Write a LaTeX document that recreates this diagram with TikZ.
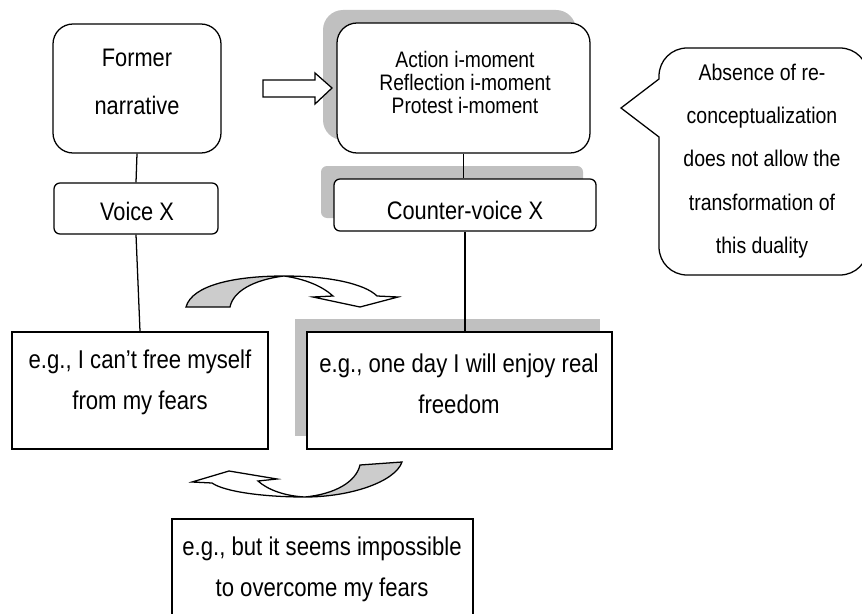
\documentclass[tikz,border=0pt]{standalone}
\usepackage{fontspec}
\setmainfont{Liberation Sans}[FakeStretch=0.86]
\usetikzlibrary{shadows}
\definecolor{shadowgray}{RGB}{192,192,192}
\definecolor{arrowgray}{RGB}{204,204,204}
\begin{document}
\begin{tikzpicture}[x=0.75pt,y=-0.75pt,line width=0.95pt,
  boxfont/.style={font=\fontsize{19}{30.5}\selectfont},
  egfont/.style={font=\fontsize{19.3}{30.5}\selectfont},
  smallfont/.style={font=\fontsize{16.8}{17.6}\selectfont},
  bubblefont/.style={font=\fontsize{17}{32.5}\selectfont},
  bx/.style={draw=black,fill=white,inner sep=0pt},
  rbig/.style={bx,rounded corners=15pt},
  rsmall/.style={bx,rounded corners=4.5pt},
  shadowL/.style={general shadow={shadow xshift=#1, shadow yshift=9.75pt, fill=shadowgray, opacity=1}},
  txt/.style={align=center,inner sep=0pt}
]
\useasboundingbox (0,0) rectangle (862,613);
\clip (0,0) rectangle (862,613);
\fill[white] (0,0) rectangle (862,613);

% boxes
\node[rbig, minimum width=126pt, minimum height=96.75pt] (former) at (137,88.5) {};
\node[rsmall, minimum width=123pt, minimum height=38.25pt] (voice) at (136,208.5) {};
\node[bx, minimum width=192pt, minimum height=87.75pt] (egL) at (140,390.5) {};
\node[bx, shadowL=-9pt, minimum width=228.75pt, minimum height=87.75pt] (egR) at (459.5,390.5) {};
\node[rbig, shadowL=-10.5pt, minimum width=189.75pt, minimum height=97.5pt] (action) at (463.5,88) {};
\node[rsmall, shadowL=-9.75pt, minimum width=196.5pt, minimum height=39pt] (counter) at (465,205) {};
\node[bx, minimum width=225.75pt, minimum height=83.25pt] (egB) at (322.5,574.5) {};

% texts
\node[txt, font=\fontsize{19}{36}\selectfont] (formerT) at (137,82) {Former\\narrative};
\node[txt, boxfont] (voiceT) at (137,211) {Voice X};
\node[txt, smallfont] (actionT) at (465,82.5) {Action i-moment\\Reflection i-moment\\Protest i-moment};
\node[txt, boxfont] (counterT) at (465,210) {Counter-voice X};
\node[txt, egfont] (egLT) at (140,382.5) {e.g., I can’t free myself\\from my fears};
\node[txt, egfont] (egRT) at (459,383.5) {e.g., one day I will enjoy real\\freedom};
\node[txt, egfont] (egBT) at (322,569.5) {e.g., but it seems impossible\\to overcome my fears};

% connectors
\draw (former.south) -- (voice.north);
\draw (voice.south) -- (egL.north);
\draw (action.south) -- (action.south |- counter.north);
\draw (counter.south) -- (counter.south |- egR.north);

% hollow block arrow
\draw[fill=white] (263,80) -- (315,80) -- (315,73) -- (332,88) -- (315,104) -- (315,97) -- (263,97) -- cycle;

% speech bubble
\draw[fill=white] (621,108) -- (659,137) [rounded corners=21pt] -- (659,275) -- (868,275) -- (868,48) -- (659,48) [sharp corners] -- (659,79) -- cycle;
\node[txt, bubblefont] (bubbleT) at (762,161) {Absence of re-\\conceptualization\\does not allow the\\transformation of\\this duality};

% top curved arrow
\draw[fill=arrowgray] (186,307) .. controls (192,285) and (235,276) .. (284,276)
   .. controls (252,280) and (233,292) .. (230,307) -- cycle;
\draw[fill=white] (284,276) .. controls (330,276) and (365,284) .. (377,296)
   -- (398,297) -- (360,307) -- (313,297) -- (333,296)
   .. controls (322,286) and (305,279) .. (284,276) -- cycle;

% bottom curved arrow
\draw[fill=arrowgray] (360,465) -- (402,462) .. controls (395,482) and (350,497) .. (305,497)
   .. controls (335,494) and (356,482) .. (360,465) -- cycle;
\draw[fill=white] (305,497) .. controls (265,497) and (225,492) .. (212,483)
   -- (192,482) -- (229,471) -- (277,479) -- (258,481)
   .. controls (268,490) and (285,496) .. (305,497) -- cycle;
\end{tikzpicture}
\end{document}
